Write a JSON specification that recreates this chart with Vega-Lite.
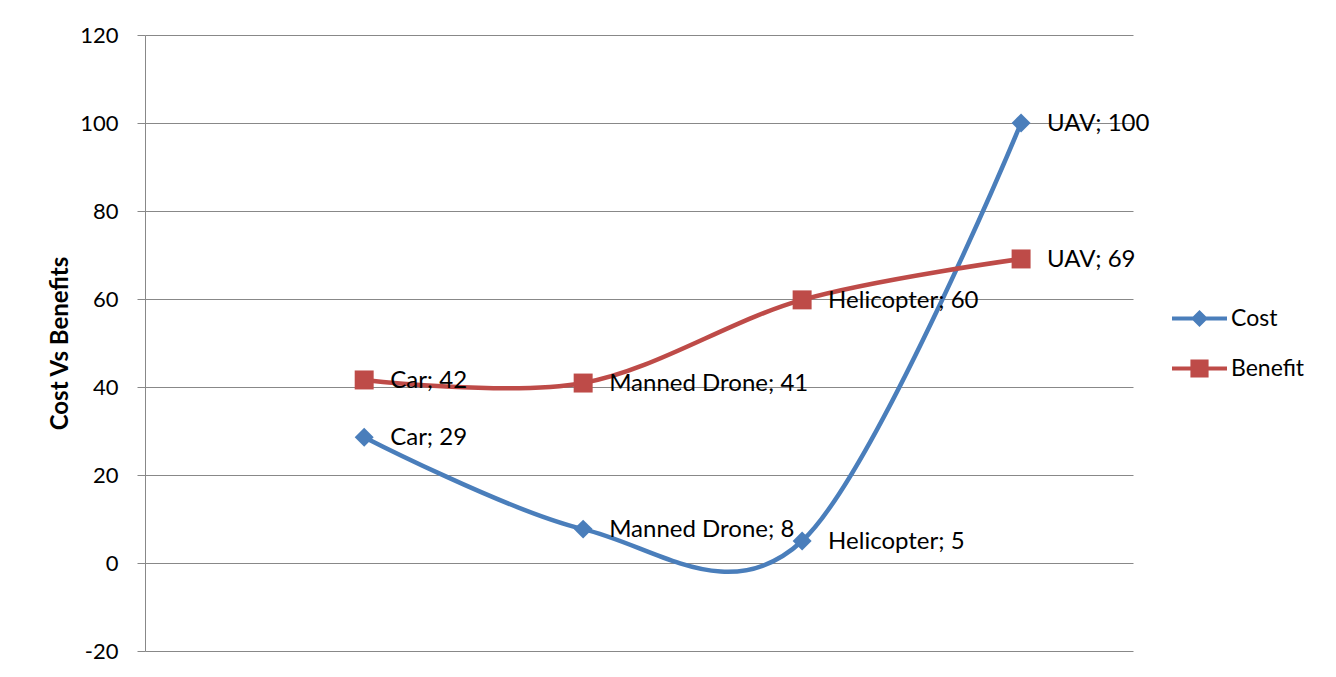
{
  "$schema": "https://vega.github.io/schema/vega-lite/v6.json",
  "width": 988,
  "height": 616,
  "autosize": {"type": "none"},
  "padding": {"left": 145, "top": 35, "right": 203, "bottom": 26},
  "background": "white",
  "config": {
    "font": "Lato",
    "view": {"stroke": null},
    "axis": {"labelFont": "Lato", "titleFont": "Lato"},
    "legend": {"labelFont": "Lato"}
  },
  "data": {
    "values": [
      {"category": "Car", "series": "Cost", "value": 28.6, "label": "Car; 29"},
      {"category": "Manned Drone", "series": "Cost", "value": 7.7, "label": "Manned Drone; 8"},
      {"category": "Helicopter", "series": "Cost", "value": 5, "label": "Helicopter; 5"},
      {"category": "UAV", "series": "Cost", "value": 100, "label": "UAV; 100"},
      {"category": "Car", "series": "Benefit", "value": 41.6, "label": "Car; 42"},
      {"category": "Manned Drone", "series": "Benefit", "value": 40.9, "label": "Manned Drone; 41"},
      {"category": "Helicopter", "series": "Benefit", "value": 59.8, "label": "Helicopter; 60"},
      {"category": "UAV", "series": "Benefit", "value": 69.1, "label": "UAV; 69"}
    ]
  },
  "encoding": {
    "x": {
      "field": "category",
      "type": "ordinal",
      "sort": ["Car", "Manned Drone", "Helicopter", "UAV"],
      "scale": {"type": "point", "padding": 0.756, "align": 0.662},
      "axis": null
    },
    "y": {
      "field": "value",
      "type": "quantitative",
      "scale": {"domain": [-20, 120], "nice": false, "zero": false},
      "axis": {
        "values": [-20, 0, 20, 40, 60, 80, 100, 120],
        "labelExpr": "replace(datum.label, '\u2212', '-')",
        "title": "Cost Vs Benefits",
        "titleFontSize": 24,
        "titleFontWeight": "bold",
        "titleColor": "#000000",
        "titleX": -78,
        "titleBaseline": "alphabetic",
        "labelFontSize": 22,
        "labelColor": "#000000",
        "labelPadding": 19,
        "tickSize": 8,
        "tickColor": "#888888",
        "domainColor": "#888888",
        "gridColor": "#888888",
        "gridOpacity": 1,
        "grid": true
      }
    }
  },
  "resolve": {"scale": {"shape": "independent", "color": "independent"}, "legend": {"shape": "independent", "color": "independent"}},
  "layer": [
    {
      "mark": {"type": "line", "interpolate": "cardinal", "tension": 0, "strokeWidth": 4.5, "strokeCap": "round"},
      "encoding": {
        "color": {
          "field": "series",
          "type": "nominal",
          "scale": {"domain": ["Cost", "Benefit"], "range": ["#4A7EBB", "#BE4B48"]},
          "legend": null
        }
      }
    },
    {
      "mark": {"type": "point", "filled": true, "opacity": 1, "size": 360},
      "encoding": {
        "color": {
          "field": "series",
          "type": "nominal",
          "scale": {"domain": ["Cost", "Benefit"], "range": ["#4A7EBB", "#BE4B48"]},
          "legend": null
        },
        "shape": {
          "field": "series",
          "type": "nominal",
          "scale": {"domain": ["Cost", "Benefit"], "range": ["diamond", "square"]},
          "legend": null
        }
      }
    },
    {
      "mark": {"type": "text", "align": "left", "baseline": "middle", "dx": 26, "dy": 1, "fontSize": 24, "color": "#000000"},
      "encoding": {"text": {"field": "label"}}
    },
    {
      "transform": [{"filter": "false"}],
      "mark": {"type": "point", "filled": true, "opacity": 1},
      "encoding": {
        "color": {
          "field": "series",
          "type": "nominal",
          "scale": {"domain": ["Cost", "Benefit"], "range": ["#4A7EBB", "#BE4B48"]},
          "legend": {
            "title": null,
            "orient": "none",
            "legendX": 1027,
            "legendY": 256,
            "padding": 0,
            "symbolSize": 3025,
            "symbolStrokeWidth": 0,
            "symbolOpacity": 1,
            "rowPadding": 10,
            "labelOffset": 4,
            "labelFontSize": 23,
            "labelColor": "#000000"
          }
        },
        "shape": {
          "field": "series",
          "type": "nominal",
          "scale": {
            "domain": ["Cost", "Benefit"],
            "range": [
              "M-1,-0.075L1,-0.075L1,0.075L-1,0.075Z M0,-0.31L0.31,0L0,0.31L-0.31,0Z",
              "M-1,-0.075L1,-0.075L1,0.075L-1,0.075Z M-0.33,-0.33L0.33,-0.33L0.33,0.33L-0.33,0.33Z"
            ]
          },
          "legend": {
            "title": null,
            "orient": "none",
            "legendX": 1027,
            "legendY": 256,
            "padding": 0,
            "symbolSize": 3025,
            "symbolStrokeWidth": 0,
            "symbolOpacity": 1,
            "rowPadding": 10,
            "labelOffset": 4,
            "labelFontSize": 23,
            "labelColor": "#000000"
          }
        }
      }
    }
  ]
}
